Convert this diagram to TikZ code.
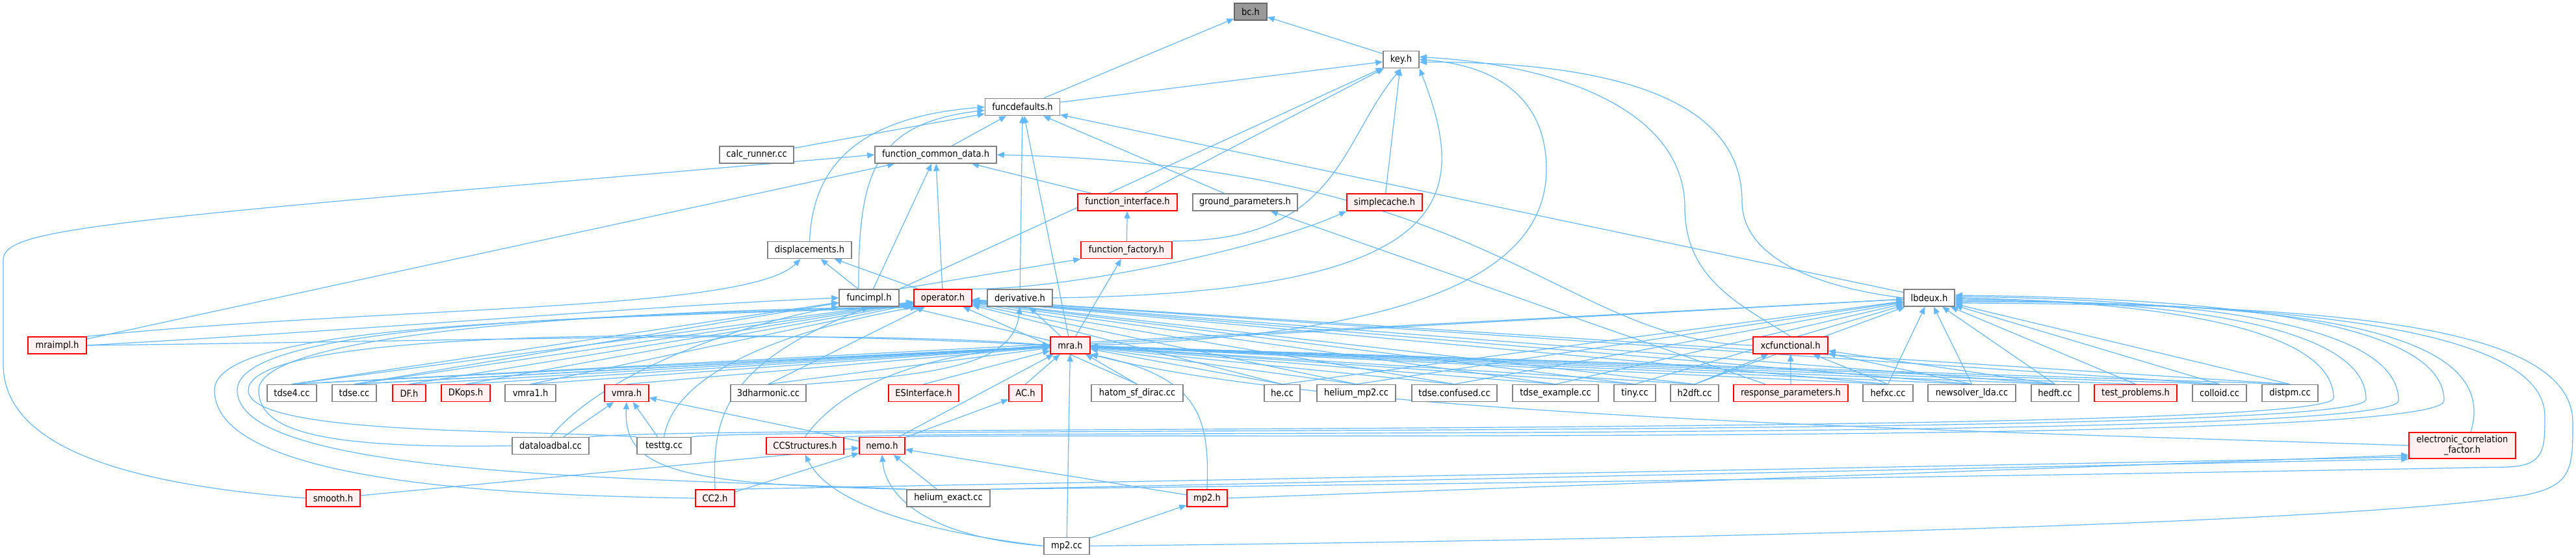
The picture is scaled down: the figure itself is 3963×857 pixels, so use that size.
\documentclass[tikz,border=0pt]{standalone}
\usepackage{fontspec}
\newfontfamily\nodefont[FakeStretch=0.9]{DejaVu Sans}
\usetikzlibrary{arrows.meta}
\definecolor{edgec}{RGB}{99,184,255}
\definecolor{graybd}{RGB}{128,128,128}
\definecolor{redbd}{RGB}{255,0,0}
\definecolor{pinkf}{RGB}{255,240,240}
\definecolor{bcfill}{RGB}{153,153,153}
\definecolor{bcbd}{RGB}{102,102,102}
\pgfdeclarelayer{bgw}
\pgfdeclarelayer{edges}
\pgfsetlayers{bgw,edges,main}
\begin{document}
\begin{tikzpicture}[x=1pt,y=-1pt,
  nd/.style={draw=graybd, fill=white, line width=1.5pt, minimum height=26pt, inner xsep=6pt, inner ysep=0pt, font=\nodefont\fontsize{14.5}{16}\selectfont, text=black},
  wn/.style={nd},
  rn/.style={nd, draw=redbd, fill=pinkf},
  gy/.style={nd, draw=bcbd, fill=bcfill},
  lnk/.style={draw=edgec, line width=1.2pt, -{Triangle[length=11pt,width=9pt]}}]
\begin{pgfonlayer}{bgw}
\fill[white] (0,0) rectangle (3963,857);
\end{pgfonlayer}
\path[use as bounding box] (0,0) rectangle (3963,857);
% row 0-7
\node[gy, minimum width=50pt] (bc) at (1924,18) {bc.h};
\node[wn, minimum width=55pt] (key) at (2155.5,91.5) {key.h};
\node[wn, minimum width=115pt] (fdef) at (1573,164.5) {funcdefaults.h};
\node[wn, minimum width=114pt] (calcr) at (1164,238) {calc\_runner.cc};
\node[wn, minimum width=187pt] (fcd) at (1439.5,238) {function\_common\_data.h};
\node[rn, minimum width=153pt] (fint) at (1734.5,311) {function\_interface.h};
\node[wn, minimum width=161pt] (gpar) at (1915.5,311) {ground\_parameters.h};
\node[rn, minimum width=116pt] (scache) at (2130,311) {simplecache.h};
\node[wn, minimum width=129pt] (disp) at (1245.5,384.5) {displacements.h};
\node[rn, minimum width=140pt] (ffac) at (1733,384.5) {function\_factory.h};
\node[wn, minimum width=92pt] (fimpl) at (1337,458) {funcimpl.h};
\node[rn, minimum width=89pt] (oper) at (1450.5,458) {operator.h};
\node[wn, minimum width=100pt] (deriv) at (1569,458) {derivative.h};
\node[wn, minimum width=78pt] (lbd) at (2968,458) {lbdeux.h};
\node[rn, minimum width=90pt] (mrai) at (88,531) {mraimpl.h};
\node[rn, minimum width=61pt] (mra) at (1646.5,531) {mra.h};
\node[rn, minimum width=115pt] (xcf) at (2754.5,531) {xcfunctional.h};
% row 8
\node[wn, minimum width=76pt] (tdseF) at (449,604.5) {tdse4.cc};
\node[wn, minimum width=68pt] (tdse) at (545,604.5) {tdse.cc};
\node[rn, minimum width=51pt] (DF) at (629.5,604.5) {DF.h};
\node[rn, minimum width=75pt] (DKops) at (716.5,604.5) {DKops.h};
\node[wn, minimum width=78pt] (vmraA) at (816,604.5) {vmra1.h};
\node[rn, minimum width=68pt] (vmra) at (964,604.5) {vmra.h};
\node[wn, minimum width=116pt] (harm3) at (1182,604.5) {3dharmonic.cc};
\node[rn, minimum width=108pt] (esi) at (1421,604.5) {ESInterface.h};
\node[rn, minimum width=51pt] (AC) at (1577.5,604.5) {AC.h};
\node[wn, minimum width=141pt] (hatom) at (1749.5,604.5) {hatom\_sf\_dirac.cc};
\node[wn, minimum width=55pt] (he) at (1972.5,604.5) {he.cc};
\node[wn, minimum width=121pt] (hemp2) at (2086.5,604.5) {helium\_mp2.cc};
\node[wn, minimum width=131pt] (tdsec) at (2237.5,604.5) {tdse.confused.cc};
\node[wn, minimum width=132pt] (tdsee) at (2393,604.5) {tdse\_example.cc};
\node[wn, minimum width=64pt] (tiny) at (2515,604.5) {tiny.cc};
\node[wn, minimum width=74pt] (h2dft) at (2607,604.5) {h2dft.cc};
\node[rn, minimum width=176pt] (resp) at (2755,604.5) {response\_parameters.h};
\node[wn, minimum width=77pt] (hefxc) at (2904.5,604.5) {hefxc.cc};
\node[wn, minimum width=135pt] (nslda) at (3033.5,604.5) {newsolver\_lda.cc};
\node[wn, minimum width=73pt] (hedft) at (3161.5,604.5) {hedft.cc};
\node[rn, minimum width=127pt] (tprob) at (3285.5,604.5) {test\_problems.h};
\node[wn, minimum width=83pt] (colloid) at (3414.5,604.5) {colloid.cc};
\node[wn, minimum width=86pt] (distpm) at (3523,604.5) {distpm.cc};
% row 9
\node[wn, minimum width=118pt] (dlb) at (847,685.5) {dataloadbal.cc};
\node[wn, minimum width=83pt] (testtg) at (1021.5,685.5) {testtg.cc};
\node[rn, minimum width=119pt] (ccs) at (1238.5,685.5) {CCStructures.h};
\node[rn, minimum width=70pt] (nemo) at (1357,685.5) {nemo.h};
\node[rn, minimum width=164pt, minimum height=40pt, align=center] (ecf) at (3788,685) {electronic\_correlation\\\_factor.h};
% row 10-11
\node[rn, minimum width=83pt] (smooth) at (512.5,766) {smooth.h};
\node[rn, minimum width=60pt] (cc2) at (1100,766) {CC2.h};
\node[wn, minimum width=128pt] (hexact) at (1459,766) {helium\_exact.cc};
\node[rn, minimum width=62pt] (mp2h) at (1857,766) {mp2.h};
\node[wn, minimum width=70pt] (mp2cc) at (1641,839.5) {mp2.cc};

\begin{pgfonlayer}{edges}
% upper part
\draw[lnk] (fdef) -- (bc);
\draw[lnk] (key) -- (bc);
\draw[lnk] (fdef) -- (key);
\draw[lnk] (calcr) -- (fdef);
\draw[lnk] (fcd) -- (fdef);
\draw[lnk] (disp.north) .. controls (1250,255) and (1320,180) .. (fdef.west);
\draw[lnk] ([xshift=-16pt]fimpl.north) .. controls (1320,265) and (1345,190) .. ([yshift=-5pt]fdef.west);
\draw[lnk] (deriv) -- (fdef);
\draw[lnk] (mra) -- (fdef);
\draw[lnk] (gpar) -- (fdef);
\draw[lnk] (lbd) -- (fdef);
\draw[lnk] (fimpl) -- (fcd);
\draw[lnk] (oper) -- (fcd);
\draw[lnk] (fint) -- (fcd);
\draw[lnk] (mrai) -- (fcd);
\draw[lnk] (smooth.west) .. controls (200,745) and (5,690) .. (5,560) -- (5,400) .. controls (5,350) and (150,340) .. (fcd.west);
\draw[lnk] (xcf.west) .. controls (2400,525) and (2300,255) .. (fcd.east);
\draw[lnk] (fimpl.north east) -- (key);
\draw[lnk] (fint) -- (key);
\draw[lnk] (ffac.north east) .. controls (2060,370) and (2060,220) .. (key.south);
\draw[lnk] (scache) -- (key);
\draw[lnk] (deriv.east) .. controls (2250,450) and (2260,300) .. (key.south east);
\draw[lnk] (mra.east) .. controls (2150,515) and (2379,430) .. (2379,260) .. controls (2379,150) and (2300,100) .. (key.east);
\draw[lnk] (xcf.north) .. controls (2680,470) and (2592,430) .. (2592,320) .. controls (2592,170) and (2400,100) .. ([yshift=4pt]key.east);
\draw[lnk] (lbd.west) .. controls (2780,440) and (2680,390) .. (2680,310) .. controls (2680,140) and (2450,95) .. ([yshift=-4pt]key.east);
\draw[lnk] (ffac) -- (fint);
\draw[lnk] (mra) -- (ffac);
\draw[lnk] (fimpl.north east) -- (ffac.south west);
\draw[lnk] (oper.north east) .. controls (1650,445) and (1950,380) .. (scache.south west);
\draw[lnk] (fimpl) -- (disp);
\draw[lnk] (oper) -- (disp);
\draw[lnk] (mrai.north east) .. controls (600,470) and (1150,480) .. ([xshift=-14pt]disp.south);
\draw[lnk] (mrai.east) .. controls (600,505) and (1000,470) .. (fimpl.west);
\draw[lnk] (mrai.east) .. controls (700,525) and (1300,505) .. (mra.west);
\draw[lnk] (mra) -- (fimpl);
\draw[lnk] (mra) -- (deriv);
\draw[lnk] (resp) -- (gpar);
\draw[lnk] (harm3.north east) .. controls (1450,575) and (1560,560) .. (deriv.south);
% row 8
\foreach \s in {tdseF,tdse} \draw[lnk] (\s.north) -- (fimpl);
\foreach \s in {tdseF,tdse,DF,DKops,vmraA,harm3,hatom,he,hemp2,tdsec,tdsee,tiny,h2dft,hefxc,nslda,hedft,colloid,distpm} \draw[lnk] (\s.north) -- (oper);
\foreach \s in {tdseF,tdse,DF,DKops,vmraA,vmra,harm3,esi,AC,hatom,he,hemp2,tdsec,tdsee,tiny,h2dft,hefxc,nslda,hedft,tprob,colloid,distpm} \draw[lnk] (\s.north) -- (mra);
\foreach \s in {tdseF,tdse,he,hemp2,tdsec,tdsee,tiny,h2dft,hefxc,nslda,hedft,tprob,colloid,distpm} \draw[lnk] (\s.north) -- (lbd);
\foreach \s in {h2dft,resp,hefxc,nslda,hedft} \draw[lnk] (\s.north) -- (xcf);
% lower part
\draw[lnk] (dlb) -- (vmra);
\draw[lnk] (testtg) -- (vmra);
\draw[lnk] (dlb.north) .. controls (930,570) and (1150,495) .. (fimpl.south west);
\draw[lnk] (testtg.north) .. controls (1040,560) and (1250,500) .. ([xshift=6pt]oper.south west);
\draw[lnk] (dlb.west) .. controls (500,690) and (398,665) .. (398,600) .. controls (398,515) and (900,478) .. (oper.south west);
\draw[lnk] (testtg.north west) .. controls (800,660) and (382,670) .. (382,600) .. controls (382,505) and (1100,505) .. (mra.west);
\draw[lnk] (hexact.north west) .. controls (1000,735) and (365,735) .. (365,600) .. controls (365,500) and (900,485) .. ([xshift=10pt]oper.south west);
\draw[lnk] (cc2.west) .. controls (800,762) and (330,745) .. (330,600) .. controls (330,495) and (900,490) .. ([xshift=14pt]oper.south west);
\draw[lnk] (cc2.north) .. controls (1095,640) and (1115,560) .. (fimpl.south);
\draw[lnk] (hexact.north west) .. controls (1050,745) and (958,725) .. (vmra.south);
\draw[lnk] (hexact) -- (nemo);
\draw[lnk] (hexact.north east) -- (ecf.south west);
\draw[lnk] (cc2) -- (nemo);
\draw[lnk] (cc2.north east) -- ([yshift=3pt]ecf.south west);
\draw[lnk] (mp2h) -- (nemo);
\draw[lnk] (mp2h.east) -- ([yshift=6pt]ecf.south west);
\draw[lnk] (mp2h.north) .. controls (1861,640) and (1845,580) .. (mra.south east);
\draw[lnk] (mp2cc) -- (mp2h);
\draw[lnk] (mp2cc) -- (mra);
\draw[lnk] (mp2cc.west) .. controls (1420,825) and (1362,760) .. (nemo.south);
\draw[lnk] (mp2cc.west) .. controls (1400,815) and (1275,770) .. (ccs.south);
\draw[lnk] (nemo) -- (vmra);
\draw[lnk] (nemo) -- (AC);
\draw[lnk] (nemo) -- (mra);
\draw[lnk] (ccs.north) .. controls (1290,600) and (1400,545) .. (mra.west);
\draw[lnk] (smooth) -- (nemo);
\draw[lnk] (ecf.west) .. controls (3000,662) and (2050,640) .. (mra.south east);
\draw[lnk] ([xshift=13pt]ecf.north) .. controls (3845,520) and (3600,462) .. ([yshift=-6pt]lbd.east);
% wraps round the right side
\draw[lnk] (dlb.north east) .. controls (1100,652) and (3590,672) .. (3590,612) .. controls (3590,500) and (3300,464) .. (lbd.east);
\draw[lnk] (testtg.north east) .. controls (1200,655) and (3640,676) .. (3640,614) .. controls (3640,495) and (3320,462) .. ([yshift=-2pt]lbd.east);
\draw[lnk] (ccs.north east) .. controls (1500,660) and (3690,680) .. (3690,616) .. controls (3690,490) and (3340,460) .. ([yshift=2pt]lbd.east);
\draw[lnk] (nemo.north east) .. controls (1600,665) and (3760,688) .. (3760,616) .. controls (3760,485) and (3360,458) .. ([yshift=4pt]lbd.east);
\draw[lnk] (hexact.north east) .. controls (2600,740) and (3500,725) .. (3860,718) .. controls (3915,715) and (3915,690) .. (3915,640) .. controls (3915,500) and (3500,466) .. ([yshift=-4pt]lbd.east);
\draw[lnk] (mp2cc.east) .. controls (2600,830) and (3600,805) .. (3880,762) .. controls (3958,748) and (3958,720) .. (3958,650) .. controls (3958,500) and (3600,468) .. ([yshift=-8pt]lbd.east);
\end{pgfonlayer}
\end{tikzpicture}
\end{document}
